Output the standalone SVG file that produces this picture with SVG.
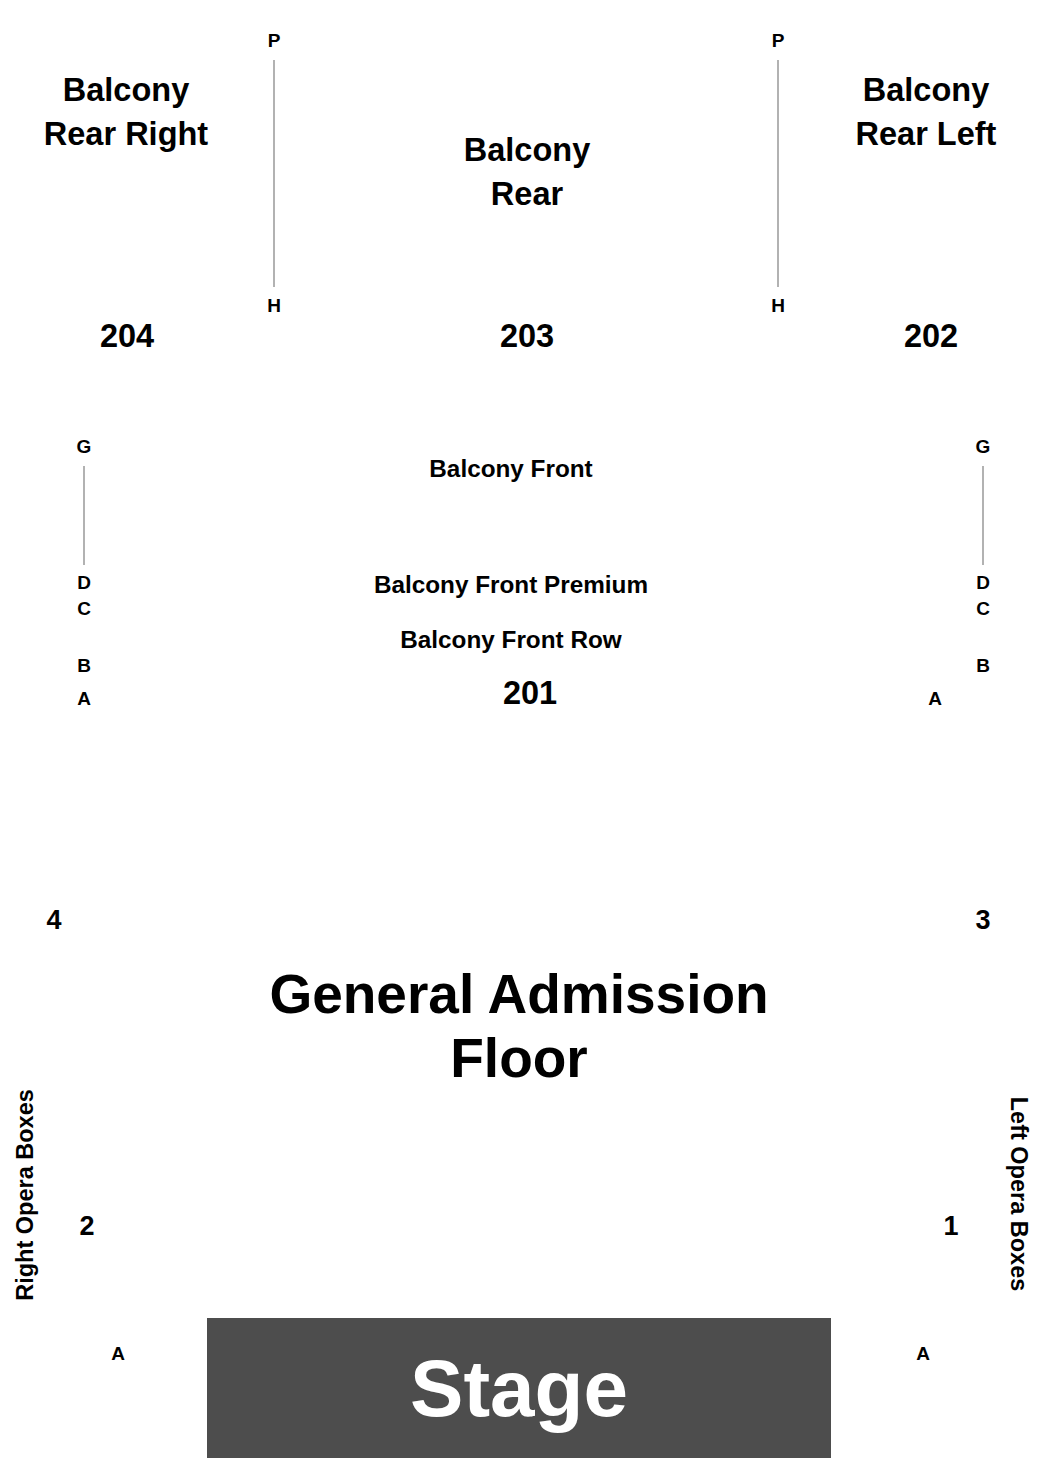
<svg xmlns="http://www.w3.org/2000/svg" width="1050" height="1480" viewBox="0 0 1050 1480">
<style>
text{font-family:"Liberation Sans",Arial,sans-serif;font-weight:bold;fill:#000;text-anchor:middle}
.sec{font-size:32.5px}
.row{font-size:19px}
.mid{font-size:24.3px}
.box{font-size:27px}
.side{font-size:23.5px}
.big{font-size:55px}
.stage{font-size:80px;fill:#fff}
line{stroke:#999;stroke-width:1.5}
</style>
<rect width="1050" height="1480" fill="#fff"/>
<g id="balcony-rear-right">
<text class="sec" x="126" y="101">Balcony</text>
<text class="sec" x="126" y="145">Rear Right</text>
<text class="sec" x="127" y="347">204</text>
</g>
<g id="balcony-rear">
<text class="sec" x="527" y="161">Balcony</text>
<text class="sec" x="527" y="205">Rear</text>
<text class="sec" x="527" y="347">203</text>
</g>
<g id="balcony-rear-left">
<text class="sec" x="926" y="101">Balcony</text>
<text class="sec" x="926" y="145">Rear Left</text>
<text class="sec" x="931" y="347">202</text>
</g>
<g id="rows-rear-left">
<text class="row" x="274" y="47">P</text>
<line x1="274" y1="60" x2="274" y2="287"/>
<text class="row" x="274" y="312">H</text>
</g>
<g id="rows-rear-right">
<text class="row" x="778" y="47">P</text>
<line x1="778" y1="60" x2="778" y2="287"/>
<text class="row" x="778" y="312">H</text>
</g>
<g id="balcony-front">
<text class="mid" x="511" y="477">Balcony Front</text>
<text class="mid" x="511" y="593">Balcony Front Premium</text>
<text class="mid" x="511" y="648">Balcony Front Row</text>
<text class="sec" x="530" y="704">201</text>
</g>
<g id="rows-front-left">
<text class="row" x="84" y="453">G</text>
<line x1="84" y1="466" x2="84" y2="565"/>
<text class="row" x="84" y="589">D</text>
<text class="row" x="84" y="615">C</text>
<text class="row" x="84" y="672">B</text>
<text class="row" x="84" y="705">A</text>
</g>
<g id="rows-front-right">
<text class="row" x="983" y="453">G</text>
<line x1="983" y1="466" x2="983" y2="565"/>
<text class="row" x="983" y="589">D</text>
<text class="row" x="983" y="615">C</text>
<text class="row" x="983" y="672">B</text>
<text class="row" x="935" y="705">A</text>
</g>
<g id="general-admission">
<text class="big" x="519" y="1013">General Admission</text>
<text class="big" x="519" y="1077">Floor</text>
</g>
<g id="right-opera-boxes">
<text class="box" x="54" y="929">4</text>
<text class="box" x="87" y="1235">2</text>
<text class="row" x="118" y="1360">A</text>
<text class="side" transform="translate(33,1195) rotate(-90)">Right Opera Boxes</text>
</g>
<g id="left-opera-boxes">
<text class="box" x="983" y="929">3</text>
<text class="box" x="951" y="1235">1</text>
<text class="row" x="923" y="1360">A</text>
<text class="side" transform="translate(1011,1194) rotate(90)">Left Opera Boxes</text>
</g>
<g id="stage">
<rect x="207" y="1318" width="624" height="140" fill="#4d4d4d"/>
<text class="stage" x="519" y="1416">Stage</text>
</g>
</svg>
